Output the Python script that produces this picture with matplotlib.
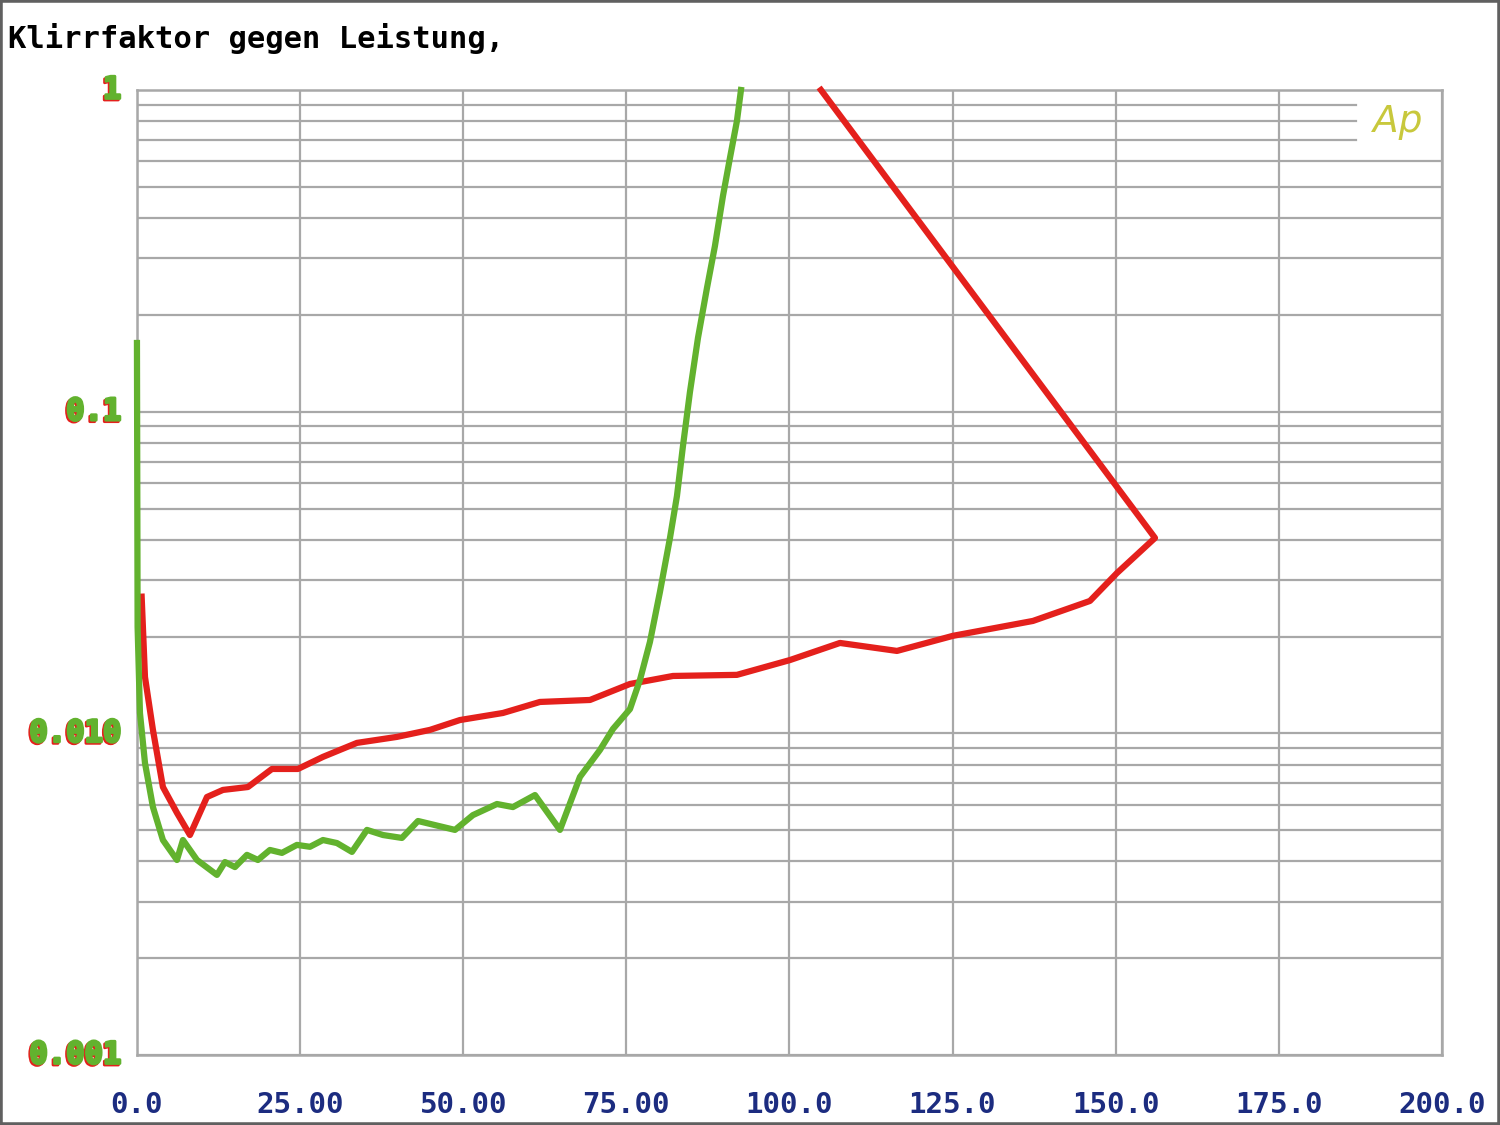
import matplotlib
matplotlib.use("Agg")
import matplotlib.pyplot as plt
import matplotlib.transforms as mtransforms
import matplotlib.patheffects as pe
from matplotlib.patches import Rectangle

# ======== Daten =====================
titel = "Klirrfaktor gegen Leistung,"

x_ticks = [0, 25, 50, 75, 100, 125, 150, 175, 200]
x_tick_labels = ["0.0", "25.00", "50.00", "75.00", "100.0", "125.0", "150.0", "175.0", "200.0"]
y_ticks = [0.001, 0.01, 0.1, 1]
y_tick_labels = ["0.001", "0.010", "0.1", "1"]

rot_x = [0.72, 1.23, 2.45, 3.98, 6.13, 8.12, 10.73, 13.18, 17.01, 20.69, 24.67,
         28.51, 33.72, 39.85, 44.9, 49.5, 56.09, 61.76, 69.43, 75.56, 82.15,
         91.95, 100.08, 107.74, 116.48, 125.06, 137.32, 146.05, 150.19, 156.02,
         104.83]
rot_y = [0.0266, 0.01497, 0.01025, 0.00681, 0.00566, 0.00483, 0.00634, 0.00667,
         0.00681, 0.00775, 0.00775, 0.00845, 0.00934, 0.00975, 0.01025, 0.0110,
         0.01157, 0.01252, 0.0127, 0.01424, 0.01508, 0.0152, 0.0169, 0.0191,
         0.01804, 0.0201, 0.02236, 0.0258, 0.0315, 0.0405, 1.0]

gruen_x = [0.0, 0.1, 0.46, 1.23, 2.45, 3.98, 6.13, 7.05, 9.2, 12.26, 13.49, 15.02,
           16.86, 18.54, 20.38, 22.22, 24.52, 26.51, 28.51, 30.65, 32.95, 35.25,
           37.7, 40.61, 43.07, 48.74, 51.49, 55.17, 57.62, 61.0, 64.83, 67.89,
           70.96, 72.95, 75.56, 77.09, 78.62, 80.15, 81.69, 82.76, 83.68, 84.75,
           85.98, 87.36, 88.58, 89.81, 90.88, 91.95, 92.57]
gruen_y = [0.1635, 0.02142, 0.01157, 0.00809, 0.0059, 0.00466, 0.00404, 0.00466,
           0.00404, 0.00363, 0.00398, 0.00384, 0.00419, 0.00404, 0.00434, 0.00425,
           0.0045, 0.00444, 0.00466, 0.00456, 0.00428, 0.00501, 0.00483, 0.00473,
           0.00534, 0.00501, 0.00557, 0.00603, 0.0059, 0.00643, 0.00501, 0.00732,
           0.00888, 0.01032, 0.0119, 0.01466, 0.01924, 0.0275, 0.0405, 0.0547,
           0.0782, 0.1151, 0.1695, 0.2424, 0.3274, 0.4683, 0.6146, 0.8009, 1.0]

# ======== Farben =========
ROT = "#e4201c"
GRUEN = "#62b22e"
GITTER = "#a8a8a8"
BLAU = "#1c2c80"
MONO = "DejaVu Sans Mono"

fig = plt.figure(figsize=(15, 11.25), dpi=100)
ax = fig.add_axes([0.0913, 0.0622, 0.87, 0.8578])
ax.set_yscale("log")
ax.set_xlim(0, 200)
ax.set_ylim(0.001, 1)

# Gitter von Hand (oben rechts ist Platz fuer das Logo)
for xv in x_ticks:
    ax.axvline(xv, color=GITTER, lw=1.6, zorder=1)
for dek in [0.001, 0.01, 0.1]:
    for m in range(1, 10):
        yv = dek * m
        xmax = 1.0
        if dek == 0.1 and m >= 7:
            xmax = 0.934
        ax.axhline(yv, xmin=0, xmax=xmax, color=GITTER, lw=1.6, zorder=1)

for s in ax.spines.values():
    s.set_color(GITTER)
    s.set_linewidth(1.8)

# Kurven
ax.plot(rot_x, rot_y, color=ROT, lw=4.5, solid_joinstyle="round", zorder=3, clip_on=False)
ax.plot(gruen_x, gruen_y, color=GRUEN, lw=4.5, solid_joinstyle="round", zorder=4, clip_on=False)

# Achsenbeschriftung
ax.set_xticks(x_ticks)
ax.set_xticklabels(x_tick_labels, fontfamily=MONO, fontweight="bold", fontsize=21, color=BLAU)
ax.tick_params(axis="x", length=0, pad=26)
ax.set_yticks(y_ticks)
ax.set_yticklabels([])
ax.yaxis.set_minor_formatter(plt.NullFormatter())
ax.tick_params(axis="y", which="both", length=0)

trans = mtransforms.blended_transform_factory(ax.transAxes, ax.transData)
schatten = mtransforms.offset_copy(trans, fig=fig, x=-1.5, y=-1.5, units="dots")
for yv, lab in zip(y_ticks, y_tick_labels):
    ax.text(-0.012, yv, lab, transform=schatten, ha="right", va="center",
            fontfamily=MONO, fontweight="bold", fontsize=22, color=ROT,
            path_effects=[pe.withStroke(linewidth=2, foreground=ROT)])
    ax.text(-0.012, yv, lab, transform=trans, ha="right", va="center",
            fontfamily=MONO, fontweight="bold", fontsize=22, color=GRUEN,
            path_effects=[pe.withStroke(linewidth=2, foreground=GRUEN)])

# Titel und Logo
fig.text(0.005, 0.966, titel, ha="left", va="center", fontfamily=MONO,
         fontweight="bold", fontsize=22, color="black")
ax.text(0.966, 0.967, "Ap", transform=ax.transAxes, ha="center", va="center",
        fontsize=27, style="italic", color="#c8c83c")

# Rahmen um das Bild
fig.patches.append(Rectangle((0, 0), 1, 1, transform=fig.transFigure, fill=False,
                             edgecolor="#606060", lw=4))

fig.savefig("out.png", dpi=100)
